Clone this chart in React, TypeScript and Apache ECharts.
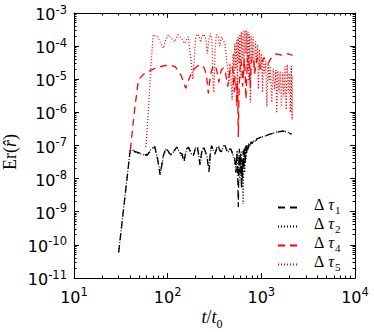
import React, { useEffect, useRef } from "react";
import * as echarts from "echarts";

const X_MIN = 10;
const X_MAX = 10000;
const Y_MIN = 1e-11;
const Y_MAX = 1e-3;

const MINOR_MANTISSAS = [2, 3, 4, 5, 6, 7, 8, 9];
const X_DECADES = [1, 2, 3];
const Y_DECADES = [-11, -10, -9, -8, -7, -6, -5, -4];

const NAMES = ["Δτ1", "Δτ2", "Δτ4", "Δτ5"];
const SUBS = ["1", "2", "4", "5"];

const tau1: [number, number][] = [
  [30, 6e-11], [40, 8e-8], [45, 6.5e-8], [55, 5.5e-8], [60, 5e-8], [66, 7e-8], [73, 9e-8], [78, 4e-8],
  [83, 1.3e-8], [90, 5e-8], [96, 8.5e-8], [104, 6e-8], [110, 5e-8], [118, 7e-8], [125, 9e-8], [135, 6e-8],
  [143, 5.5e-8], [149, 3.2e-8], [157, 7e-8], [166, 9e-8], [177, 6e-8], [188, 5e-8], [197, 8e-8], [207, 9.5e-8],
  [214, 5e-8], [221, 2.6e-8], [230, 6e-8], [240, 9e-8], [250, 7e-8], [262, 5e-8], [276, 1.6e-8], [285, 6e-8],
  [294, 1e-7], [307, 7e-8], [320, 5.5e-8], [333, 8e-8], [346, 1e-7], [360, 7e-8], [375, 6.5e-8], [392, 9e-8],
  [410, 1e-7], [428, 7e-8], [443, 6e-8], [462, 8e-8], [480, 7e-8], [502, 5e-8], [520, 4e-8], [535, 1.5e-8],
  [548, 6e-8], [560, 1e-8], [568, 1.4e-9], [575, 3e-8], [582, 8e-8], [590, 1.5e-8], [598, 6e-8], [606, 2e-8],
  [614, 5e-9], [622, 4e-8], [630, 1e-8], [640, 7e-8], [650, 2e-8], [660, 9e-8], [672, 3e-8], [684, 1e-7],
  [697, 6e-8], [710, 1.1e-7], [725, 8e-8], [740, 1.2e-7], [760, 1e-7], [780, 1.3e-7], [800, 1.15e-7], [830, 1.45e-7],
  [860, 1.3e-7], [900, 1.6e-7], [950, 1.7e-7], [1000, 1.8e-7], [1060, 1.9e-7], [1130, 2e-7], [1200, 2.15e-7],
  [1300, 2.3e-7], [1400, 2.45e-7], [1500, 2.55e-7], [1600, 2.65e-7], [1700, 2.7e-7], [1800, 2.65e-7],
  [1900, 2.5e-7], [2000, 2.35e-7], [2100, 2.2e-7],
];

const tau2: [number, number][] = [
  [30, 6e-11], [40, 8.5e-8], [46, 6e-8], [56, 5.2e-8], [61, 5.5e-8], [67, 8e-8], [73, 9.5e-8], [79, 3e-8],
  [84, 1.5e-8], [91, 5.5e-8], [97, 8e-8], [105, 5.5e-8], [112, 5.5e-8], [120, 8e-8], [127, 8.5e-8], [137, 5.5e-8],
  [146, 4e-8], [151, 3.5e-8], [159, 8e-8], [168, 8.5e-8], [180, 5.5e-8], [190, 5.5e-8], [200, 9e-8], [210, 8.5e-8],
  [217, 4e-8], [224, 3e-8], [233, 7e-8], [243, 9e-8], [254, 6.5e-8], [266, 4e-8], [279, 1.8e-8], [288, 7e-8],
  [297, 9.5e-8], [310, 6.5e-8], [324, 6e-8], [337, 9e-8], [350, 9.5e-8], [364, 6.5e-8], [380, 7e-8], [396, 1e-7],
  [414, 9e-8], [432, 6.5e-8], [448, 6.5e-8], [466, 8.5e-8], [486, 6.5e-8], [506, 4.5e-8], [524, 3e-8], [538, 2e-8],
  [552, 7e-8], [563, 1.2e-8], [571, 2.5e-8], [578, 6e-8], [586, 9e-9], [594, 5e-8], [602, 1.2e-8], [610, 7e-8],
  [618, 8e-9], [626, 3e-8], [634, 6e-9], [640, 1.7e-9], [646, 2.5e-8], [655, 8e-8], [664, 1.5e-8], [676, 9e-8],
  [688, 4e-8], [700, 1.05e-7], [715, 7e-8], [730, 1.15e-7], [748, 9e-8], [768, 1.25e-7], [790, 1.1e-7],
  [815, 1.4e-7], [845, 1.25e-7], [880, 1.55e-7], [930, 1.65e-7], [980, 1.75e-7], [1040, 1.85e-7], [1100, 1.95e-7],
  [1180, 2.1e-7], [1260, 2.25e-7], [1360, 2.4e-7], [1460, 2.55e-7], [1560, 2.65e-7], [1660, 2.75e-7],
  [1760, 2.7e-7], [1860, 2.6e-7], [1960, 2.45e-7], [2060, 2.3e-7], [2150, 2.2e-7],
];

const tau4: [number, number][] = [
  [40, 7.5e-8], [44, 1e-6], [48.7, 9.5e-6], [55, 1.4e-5], [62, 1.7e-5], [72, 2.1e-5], [83, 2.4e-5], [95, 2.6e-5],
  [106, 2.7e-5], [120, 2.4e-5], [132, 1.7e-5], [141, 1.2e-5], [150, 7e-6], [156, 5.3e-6], [164, 8e-6], [173, 1.2e-5],
  [188, 1.9e-5], [204, 2.4e-5], [218, 2.7e-5], [231, 2.7e-5], [245, 2.2e-5], [259, 1.4e-5], [267, 6e-6], [272, 3.7e-6],
  [280, 8e-6], [292, 1.7e-5], [305, 2.4e-5], [318, 2.6e-5], [332, 2e-5], [345, 1.2e-5], [352, 8e-6], [362, 1.4e-5],
  [378, 2e-5], [395, 2.2e-5], [410, 1.8e-5], [425, 1e-5], [438, 6e-6], [450, 1.2e-5], [468, 2.2e-5], [485, 2.5e-5],
  [500, 1.5e-5], [512, 4e-6], [525, 1.2e-5], [538, 6e-6], [548, 1.5e-6], [556, 8e-6], [562, 1.5e-6], [568, 1.8e-7],
  [576, 3e-6], [590, 1.8e-5], [604, 4e-5], [620, 2.5e-5], [632, 6e-6], [645, 2e-5], [660, 4e-5], [672, 1.5e-5],
  [685, 2.5e-6], [698, 1.2e-5], [712, 3.5e-5], [728, 5e-5], [745, 2e-5], [760, 6e-6], [778, 2.5e-5], [800, 5e-5],
  [825, 4e-5], [850, 1.5e-5], [880, 3e-5], [910, 4.5e-5], [945, 3e-5], [980, 2e-5], [1020, 3.5e-5], [1070, 4.5e-5],
  [1120, 3.5e-5], [1180, 3e-5], [1250, 4e-5], [1330, 5e-5], [1420, 5.8e-5], [1520, 5.6e-5], [1620, 5.4e-5],
  [1720, 5.6e-5], [1830, 5.9e-5], [1940, 5.8e-5], [2050, 5.5e-5], [2150, 5.3e-5],
];

const tau5: [number, number][] = [
  [58.6, 9e-8], [62, 1e-6], [66, 2e-5], [70, 2.2e-4], [75, 2e-4], [79, 1.9e-4], [83, 1.35e-4], [90, 8.6e-5],
  [95, 1.5e-4], [101, 2.2e-4], [110, 1.7e-4], [119, 1.35e-4], [129, 2.2e-4], [140, 1.7e-4], [152, 1.2e-4],
  [160, 1.6e-4], [166, 1.9e-4], [172, 7.6e-5], [179, 3e-5], [186, 1e-5], [192, 4e-5], [198, 1.6e-4], [206, 2.3e-4],
  [215, 2.1e-4], [225, 1.3e-4], [233, 2e-4], [243, 2.3e-4], [255, 1.6e-4], [265, 6e-5], [275, 1.5e-4], [286, 2.4e-4],
  [297, 1.5e-4], [305, 8e-6], [312, 4e-6], [320, 6e-5], [330, 2.2e-4], [345, 2.1e-4], [360, 1e-4], [375, 1.9e-4],
  [392, 1.5e-4], [410, 1.2e-4], [425, 4e-5], [438, 1.9e-5], [450, 7.5e-6], [462, 3e-5], [475, 1e-5], [488, 2.4e-6],
  [500, 6e-5], [512, 1e-5], [520, 1.2e-4], [532, 2e-5], [545, 1.5e-4], [555, 5e-6], [565, 1.9e-4], [578, 3e-5],
  [590, 2.3e-4], [600, 1e-5], [612, 2.7e-4], [625, 4e-5], [640, 2.9e-4], [652, 1.5e-5], [665, 3e-4], [680, 6e-5],
  [692, 2.9e-4], [706, 2e-5], [720, 2.7e-4], [735, 8e-6], [750, 2.3e-4], [765, 2e-6], [782, 2e-4], [800, 5e-5],
  [820, 1.9e-4], [840, 1.5e-5], [865, 1.4e-4], [890, 3e-5], [910, 1.1e-4], [930, 5e-6], [955, 8e-5], [980, 2e-5],
  [1005, 6e-5], [1030, 4e-6], [1055, 4.3e-5], [1085, 1.5e-5], [1115, 3.5e-5], [1145, 1.5e-6], [1180, 3e-5],
  [1215, 8e-6], [1250, 2.5e-5], [1290, 2e-6], [1340, 2.1e-5], [1385, 5e-6], [1430, 1.9e-5], [1460, 9.5e-7],
  [1500, 1.8e-5], [1545, 4e-6], [1590, 1.7e-5], [1640, 1.5e-6], [1690, 1.6e-5], [1740, 3e-6], [1790, 2.5e-5],
  [1840, 1.2e-6], [1890, 2.8e-5], [1940, 4e-6], [1990, 1.5e-5], [2040, 1e-6], [2090, 2.5e-5], [2130, 6e-7],
  [2150, 1.2e-5],
];

const SERIES_DATA = [tau1, tau2, tau4, tau5];
const SERIES_COLORS = ["#000000", "#000000", "#ff0000", "#ff0000"];
const SERIES_DASH: number[][] = [[7, 5], [1, 2], [7, 5], [1, 2]];

const SANS = "DejaVu Sans";
const SERIF = "Liberation Serif";

const tickRich = {
  b: { fontFamily: SANS, fontSize: 16, color: "#000", verticalAlign: "bottom" },
  s: { fontFamily: SANS, fontSize: 11.5, color: "#000", verticalAlign: "bottom", padding: [0, 0, 7, 0] },
};

function powLabel(v: number) {
  const e = Math.round(Math.log10(v));
  return "{b|10}{s|" + e + "}";
}

export default function App() {
  const ref = useRef<HTMLDivElement>(null);
  useEffect(() => {
    if (!ref.current) return;
    const chart = echarts.init(ref.current, null, { renderer: "svg" });
    const xMinor: number[] = [];
    X_DECADES.forEach((d) => MINOR_MANTISSAS.forEach((m) => xMinor.push(m * Math.pow(10, d))));
    const yMinor: number[] = [];
    Y_DECADES.forEach((d) => MINOR_MANTISSAS.forEach((m) => yMinor.push(m * Math.pow(10, d))));

    const crisp = (v: number) => Math.round(v - 0.5) + 0.5;

    const lineSeries = NAMES.map((name, i) => ({
      name,
      type: "line",
      data: SERIES_DATA[i],
      symbol: "none",
      showSymbol: false,
      xAxisIndex: 0,
      yAxisIndex: 0,
      lineStyle: { color: SERIES_COLORS[i], width: 1.3, type: SERIES_DASH[i] },
      itemStyle: { color: SERIES_COLORS[i] },
      z: 2 + i,
    }));

    const axisCommon = {
      axisLine: { show: true, lineStyle: { color: "#000", width: 1 } },
      axisTick: { show: true, inside: true, length: 5, lineStyle: { color: "#000" } },
      splitLine: { show: false },
    };

    const option: any = {
      animation: false,
      backgroundColor: "#ffffff",
      grid: { left: 74, right: 19, top: 13, bottom: 54, containLabel: false },
      xAxis: [
        {
          type: "log", logBase: 10, min: X_MIN, max: X_MAX, splitNumber: 3, position: "bottom",
          ...axisCommon,
          axisLabel: { formatter: powLabel, rich: tickRich, margin: 8 },
        },
        {
          type: "log", logBase: 10, min: X_MIN, max: X_MAX, splitNumber: 3, position: "top",
          ...axisCommon,
          axisLabel: { show: false },
        },
      ],
      yAxis: [
        {
          type: "log", logBase: 10, min: Y_MIN, max: Y_MAX, splitNumber: 8, position: "left",
          ...axisCommon,
          axisLabel: { formatter: powLabel, rich: tickRich, margin: 7 },
        },
        {
          type: "log", logBase: 10, min: Y_MIN, max: Y_MAX, splitNumber: 8, position: "right",
          ...axisCommon,
          axisLabel: { show: false },
        },
      ],
      legend: {
        data: NAMES,
        orient: "vertical",
        left: 277,
        top: 196,
        itemWidth: 21,
        itemHeight: 10,
        itemGap: 0,
        padding: 0,
        itemStyle: { color: "rgba(0,0,0,0)", opacity: 0, borderWidth: 0 },
        formatter: (name: string) => {
          const i = NAMES.indexOf(name);
          return "{d|Δ}{t|τ}{s|" + SUBS[i] + "}";
        },
        textStyle: {
          color: "#000",
          rich: {
            d: { fontFamily: SERIF, fontSize: 16, color: "#000", verticalAlign: "bottom", padding: [0, 4, 3, 10], lineHeight: 15 },
            t: { fontFamily: SERIF, fontStyle: "italic", fontSize: 16, color: "#000", verticalAlign: "bottom", padding: [0, 0, 3, 0], lineHeight: 15 },
            s: { fontFamily: SERIF, fontSize: 11, color: "#000", verticalAlign: "bottom", padding: [0, 0, 0, 1], lineHeight: 12 },
          },
        },
      },
      graphic: [
        {
          type: "text",
          x: 10,
          y: 152,
          rotation: Math.PI / 2,
          style: {
            text: "{r|Er(}{i|r\u0302}{r|)}",
            align: "center",
            verticalAlign: "middle",
            rich: {
              r: { fontFamily: SERIF, fontSize: 18, fill: "#000" },
              i: { fontFamily: SERIF, fontStyle: "italic", fontSize: 18, fill: "#000" },
            },
          },
        },
        {
          type: "text",
          x: 212,
          y: 319,
          style: {
            text: "{i|t}{r|/}{i|t}{s|0}",
            align: "center",
            verticalAlign: "middle",
            rich: {
              i: { fontFamily: SERIF, fontStyle: "italic", fontSize: 18, fill: "#000", verticalAlign: "bottom", padding: [0, 0, 4, 0] },
              r: { fontFamily: SERIF, fontSize: 18, fill: "#000", verticalAlign: "bottom", padding: [0, 0, 4, 0] },
              s: { fontFamily: SERIF, fontSize: 12, fill: "#000", verticalAlign: "bottom" },
            },
          },
        },
      ],
      series: [
        ...lineSeries,
        {
          type: "custom",
          silent: true,
          xAxisIndex: 0,
          yAxisIndex: 0,
          z: 10,
          data: xMinor.map((v) => [v, Y_MIN]),
          renderItem: (_p: any, api: any) => {
            const v = api.value(0);
            const b = api.coord([v, Y_MIN]);
            const t = api.coord([v, Y_MAX]);
            const x = crisp(b[0]);
            return {
              type: "group",
              children: [
                { type: "line", shape: { x1: x, y1: b[1], x2: x, y2: b[1] - 2.5 }, style: { stroke: "#000", lineWidth: 1 } },
                { type: "line", shape: { x1: x, y1: t[1], x2: x, y2: t[1] + 2.5 }, style: { stroke: "#000", lineWidth: 1 } },
              ],
            };
          },
        },
        {
          type: "custom",
          silent: true,
          xAxisIndex: 0,
          yAxisIndex: 0,
          z: 10,
          data: yMinor.map((v) => [X_MIN, v]),
          renderItem: (_p: any, api: any) => {
            const v = api.value(1);
            const l = api.coord([X_MIN, v]);
            const r = api.coord([X_MAX, v]);
            const y = crisp(l[1]);
            return {
              type: "group",
              children: [
                { type: "line", shape: { x1: l[0], y1: y, x2: l[0] + 2.5, y2: y }, style: { stroke: "#000", lineWidth: 1 } },
                { type: "line", shape: { x1: r[0], y1: y, x2: r[0] - 2.5, y2: y }, style: { stroke: "#000", lineWidth: 1 } },
              ],
            };
          },
        },
      ],
    };
    chart.setOption(option);
    return () => chart.dispose();
  }, []);
  return (
    <div
      ref={ref}
      style={{ position: "fixed", left: 0, top: 0, width: 374, height: 332, background: "#fff" }}
    />
  );
}
